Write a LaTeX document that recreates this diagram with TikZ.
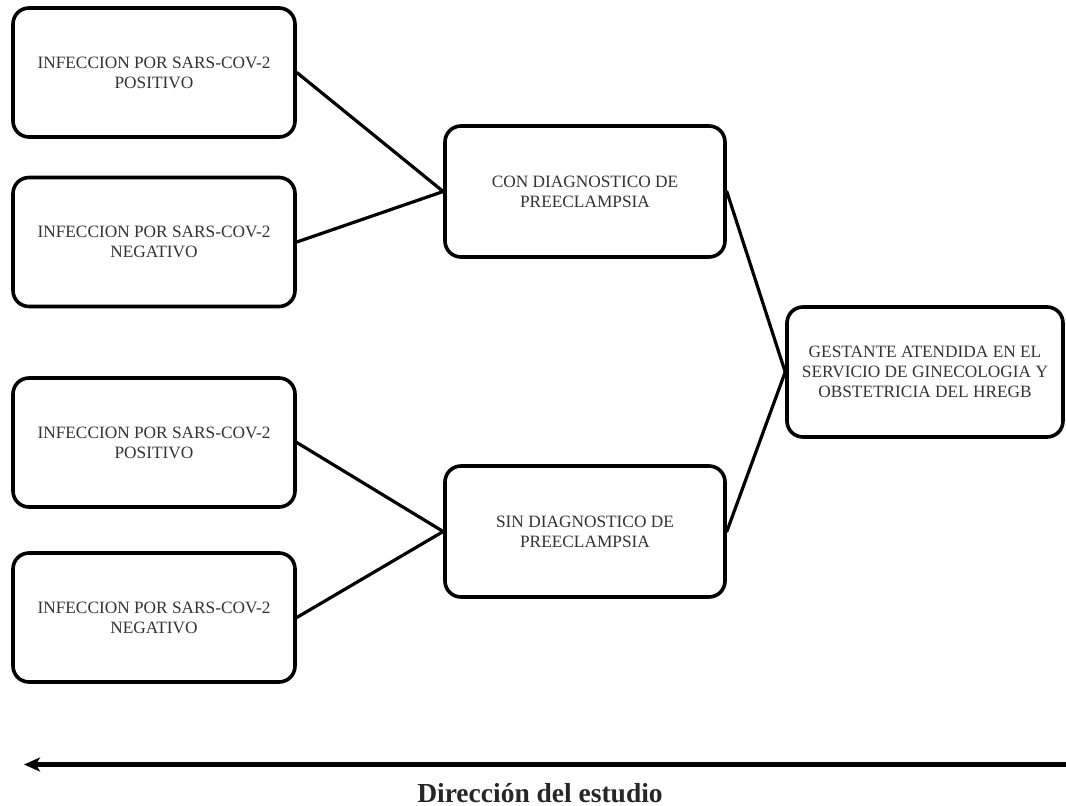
\documentclass[tikz,border=0pt]{standalone}
\usepackage{fontspec}
\setmainfont{Liberation Serif}
\usetikzlibrary{arrows.meta}
\begin{document}
\begin{tikzpicture}[x=1pt,y=-1pt,
  box/.style={draw=black, line width=3.6pt, rounded corners=16pt, fill=white,
    inner sep=0pt, align=center, text=black!80,
    font=\fontsize{17.3}{20}\selectfont},
  leftbox/.style={box, minimum width=282pt, minimum height=129pt},
  midbox/.style={box, minimum width=280pt, minimum height=131pt},
  rightbox/.style={box, minimum width=276pt, minimum height=130pt},
  link/.style={line width=3.2pt, line cap=round}]
\useasboundingbox (0,0) rectangle (1066,806);
\node[leftbox] (a1) at (154,72.5) {INFECCION POR SARS-COV-2\\POSITIVO};
\node[leftbox] (a2) at (154,242) {INFECCION POR SARS-COV-2\\NEGATIVO};
\node[leftbox] (a3) at (154,442.5) {INFECCION POR SARS-COV-2\\POSITIVO};
\node[leftbox] (a4) at (154,617.5) {INFECCION POR SARS-COV-2\\NEGATIVO};
\node[midbox] (m1) at (585,191.5) {CON DIAGNOSTICO DE\\PREECLAMPSIA};
\node[midbox] (m2) at (585,531.5) {SIN DIAGNOSTICO DE\\PREECLAMPSIA};
\node[rightbox] (r) at (925,372) {GESTANTE ATENDIDA EN EL\\SERVICIO DE GINECOLOGIA Y\\OBSTETRICIA DEL HREGB};
\draw[link] (a1.east) -- (m1.west);
\draw[link] (a2.east) -- (m1.west);
\draw[link] (a3.east) -- (m2.west);
\draw[link] (a4.east) -- (m2.west);
\draw[link] (m1.east) -- (r.west);
\draw[link] (m2.east) -- (r.west);
\coordinate (s) at (1066,764.5);
\coordinate (e) at (24,764.5);
\draw[line width=4.6pt, -{Stealth[length=16pt,width=14pt,inset=4pt]}] (s) -- (e);
\node[font=\fontsize{27.5}{30}\selectfont\bfseries, text=black!85, anchor=base] (lbl) at (540,802) {Dirección del estudio};
\end{tikzpicture}
\end{document}
